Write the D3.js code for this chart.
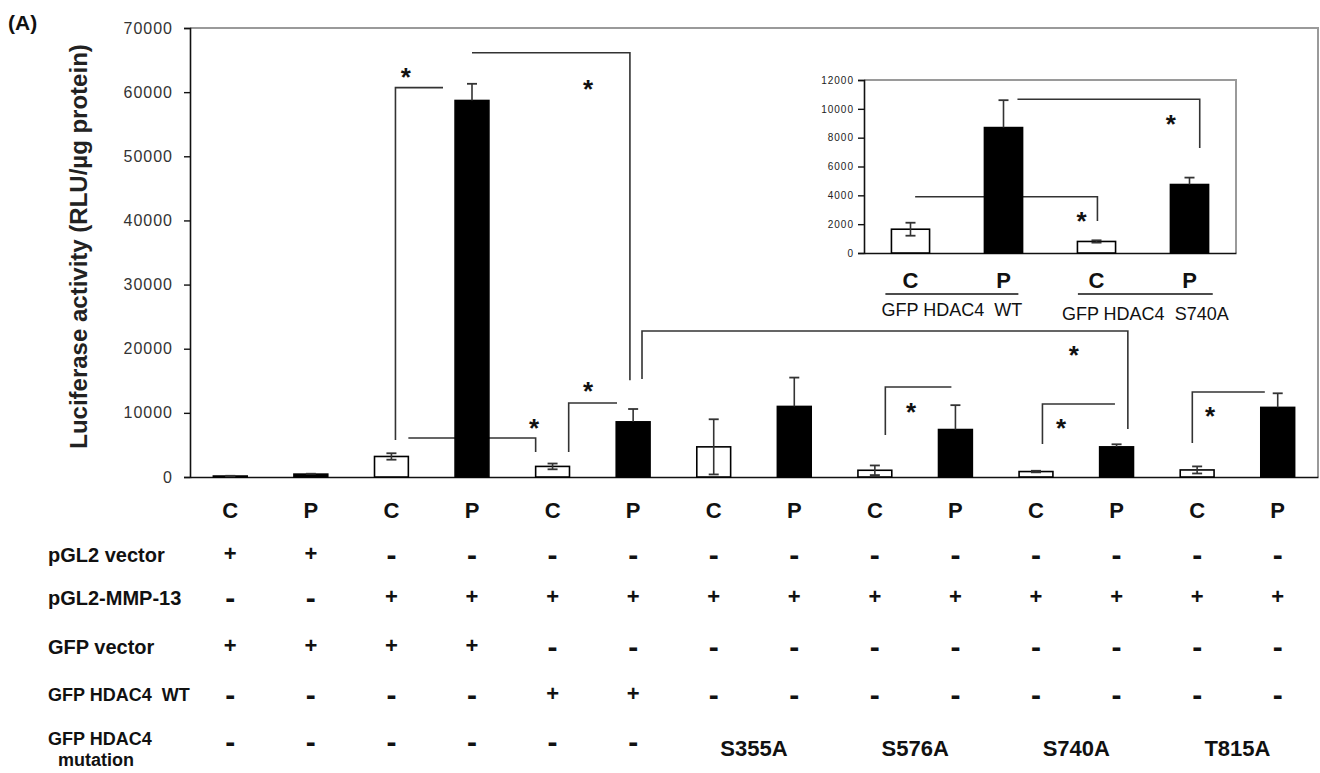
<!DOCTYPE html>
<html>
<head>
<meta charset="utf-8">
<script src="https://cdn.jsdelivr.net/npm/d3@7"></script>
<style>
  html, body { margin: 0; padding: 0; background: #fff; }
  svg { display: block; font-family: "Liberation Sans", Arial, sans-serif; }
  text { white-space: pre; }
</style>
</head>
<body>
<svg id="chart" width="1320" height="773"></svg>
<script>
// ---------------- data ----------------
const conditions = ["C","P","C","P","C","P","C","P","C","P","C","P","C","P"];
const mainValues = [150, 450, 3200, 58700, 1650, 8600, 4700, 11000, 1050, 7400, 850, 4700, 1100, 10850];
const mainErrors = [40, 60, 500, 2600, 450, 2000, 4300, 4500, 750, 3800, 120, 400, 550, 2200];
const yTicks = [0, 10000, 20000, 30000, 40000, 50000, 60000, 70000];

const insetConditions = ["C","P","C","P"];
const insetValues = [1650, 8700, 800, 4750];
const insetErrors = [450, 1900, 80, 480];
const insetTicks = [0, 2000, 4000, 6000, 8000, 10000, 12000];
const insetGroups = ["GFP HDAC4  WT", "GFP HDAC4  S740A"];

// table rows: label and one sign per column
const rowLabels = ["pGL2 vector", "pGL2-MMP-13", "GFP vector", "GFP HDAC4  WT", "GFP HDAC4"];
const rowSigns = [
  ["+","+","-","-","-","-","-","-","-","-","-","-","-","-"],
  ["-","-","+","+","+","+","+","+","+","+","+","+","+","+"],
  ["+","+","+","+","-","-","-","-","-","-","-","-","-","-"],
  ["-","-","-","-","+","+","-","-","-","-","-","-","-","-"],
  ["-","-","-","-","-","-"]
];
const mutations = ["S355A", "S576A", "S740A", "T815A"];

// significance brackets (x in bar-index units, y in data units)
// [xLeft, xRight, yTop, yLeftEnd (null = none), yRightEnd (null = none), starX, starY]
const mainBrackets = [
  [2.05, 2.64, 60700, 5770, null, 2.18, 63300],
  [3.0, 4.96, 66150, null, 15100, 4.44, 61400],
  [2.21, 3.79, 6080, null, 3900, 3.77, 8600],
  [4.2, 4.8, 11540, 3900, null, 4.44, 14300],
  [5.11, 11.14, 22760, 15280, 7480, 10.47, 19950],
  [8.13, 8.95, 14030, 6550, null, 8.45, 11070],
  [10.08, 10.98, 11380, 5150, null, 10.31, 8600],
  [11.94, 12.84, 13250, 5300, null, 12.16, 10450]
];
const insetBrackets = [
  [0.05, 2.01, 3900, null, 2220, 1.84, 2640],
  [1.15, 3.11, 10660, null, 7280, 2.8, 9360]
];

// ---------------- drawing ----------------
const svg = d3.select("#chart");
svg.append("rect").attr("width", 1320).attr("height", 773).attr("fill", "#fff");

const plotL = 190, plotR = 1318, plotT = 28, plotB = 477;
const x = d3.scaleBand().domain(d3.range(conditions.length)).range([plotL, plotR])
  .paddingInner(0.58).paddingOuter(0.29);
const xLin = d3.scaleLinear().domain([-0.5, conditions.length - 0.5]).range([plotL, plotR]);
const y = d3.scaleLinear().domain([0, 70000]).range([plotB, plotT]);

// gray top/right frame
svg.append("path")
  .attr("d", `M${xLin.range()[0]},${y(70000)}H${xLin.range()[1]}V${y(0)}`)
  .attr("fill", "none").attr("stroke", "#9a9a9a").attr("stroke-width", 2);

// y axis
const yAxis = svg.append("g").attr("transform", `translate(${plotL},0)`)
  .call(d3.axisLeft(y).tickValues(yTicks).tickSize(6).tickPadding(11).tickFormat(d3.format("d")));
yAxis.select(".domain").attr("stroke", "#111").attr("stroke-width", 1.6);
yAxis.selectAll(".tick line").attr("stroke", "#111").attr("stroke-width", 1.4);
yAxis.selectAll(".tick text").attr("font-size", 16).attr("fill", "#333")
  .attr("font-family", "Liberation Sans, Arial, sans-serif").style("letter-spacing", "1px");

// x axis line
const xAxis = svg.append("g").attr("transform", `translate(0,${plotB})`)
  .call(d3.axisBottom(xLin).tickValues([]).tickSizeOuter(0));
xAxis.select(".domain").attr("stroke", "#111").attr("stroke-width", 1.6);

// brackets
function drawBrackets(g, list, xs, ys, starSize) {
  list.forEach(b => {
    const [x1, x2, yt, yl, yr, sx, sy] = b;
    let d = "";
    if (yl !== null) d += `M${xs(x1)},${ys(yl)}V${ys(yt)}`; else d += `M${xs(x1)},${ys(yt)}`;
    d += `H${xs(x2)}`;
    if (yr !== null) d += `V${ys(yr)}`;
    g.append("path").attr("d", d).attr("fill", "none").attr("stroke", "#333").attr("stroke-width", 1.6);
    g.append("text").attr("x", xs(sx)).attr("y", ys(sy) + starSize * 0.58)
      .attr("text-anchor", "middle").attr("font-size", starSize).attr("font-weight", "bold")
      .attr("fill", "#111").text("*");
  });
}
drawBrackets(svg.append("g"), mainBrackets, xLin, y, 26);

// bars
function drawBars(g, values, errors, conds, xs, ys, capW) {
  g.selectAll("rect.bar").data(values).enter().append("rect")
    .attr("class", "bar")
    .attr("x", (d, i) => xs(i))
    .attr("y", d => ys(d))
    .attr("width", xs.bandwidth())
    .attr("height", d => ys(0) - ys(d))
    .attr("fill", (d, i) => conds[i] === "P" ? "#000" : "#fff")
    .attr("stroke", "#000").attr("stroke-width", 1.6);
  const eg = g.selectAll("g.err").data(values).enter().append("g").attr("class", "err");
  eg.each(function(d, i) {
    const e = errors[i];
    if (!e) return;
    const cxp = xs(i) + xs.bandwidth() / 2;
    const s = d3.select(this);
    const filled = conds[i] === "P";
    const lo = filled ? d : Math.max(0, d - e);
    s.append("line").attr("x1", cxp).attr("x2", cxp).attr("y1", ys(lo)).attr("y2", ys(d + e))
      .attr("stroke", "#333").attr("stroke-width", 1.6);
    s.append("line").attr("x1", cxp - capW / 2).attr("x2", cxp + capW / 2).attr("y1", ys(d + e)).attr("y2", ys(d + e))
      .attr("stroke", "#333").attr("stroke-width", 1.8);
    if (!filled) {
      s.append("line").attr("x1", cxp - capW / 2).attr("x2", cxp + capW / 2).attr("y1", ys(lo)).attr("y2", ys(lo))
        .attr("stroke", "#333").attr("stroke-width", 1.8);
    }
  });
}
drawBars(svg.append("g"), mainValues, mainErrors, conditions, x, y, 10);

// axis title
svg.append("text")
  .attr("transform", `translate(87,${(plotT + plotB) / 2 - 6}) rotate(-90)`)
  .attr("text-anchor", "middle").attr("font-size", 24).attr("font-weight", "bold").attr("fill", "#222")
  .text("Luciferase activity (RLU/\u00b5g protein)");

// panel label
svg.append("text").attr("x", 8).attr("y", 30).attr("font-size", 21).attr("font-weight", "bold")
  .attr("fill", "#111").text("(A)");

// ---------------- inset ----------------
const inL = 864, inR = 1236, inT = 80, inB = 253;
const xi = d3.scaleBand().domain(d3.range(insetValues.length)).range([inL, inR])
  .paddingInner(0.59).paddingOuter(0.295);
const xiLin = d3.scaleLinear().domain([-0.5, insetValues.length - 0.5]).range([inL, inR]);
const yi = d3.scaleLinear().domain([0, 12000]).range([inB, inT]);

svg.append("path")
  .attr("d", `M${xiLin.range()[0]},${yi(12000)}H${xiLin.range()[1]}V${yi(0)}`)
  .attr("fill", "none").attr("stroke", "#9a9a9a").attr("stroke-width", 2);
const yiAxis = svg.append("g").attr("transform", `translate(${inL},0)`)
  .call(d3.axisLeft(yi).tickValues(insetTicks).tickSize(6).tickPadding(4).tickFormat(d3.format("d")));
yiAxis.select(".domain").attr("stroke", "#111").attr("stroke-width", 1.6);
yiAxis.selectAll(".tick line").attr("stroke", "#111").attr("stroke-width", 1.4);
yiAxis.selectAll(".tick text").attr("font-size", 10).attr("fill", "#222")
  .attr("font-family", "Liberation Sans, Arial, sans-serif").style("letter-spacing", "1px");
const xiAxis = svg.append("g").attr("transform", `translate(0,${inB})`)
  .call(d3.axisBottom(xiLin).tickValues([]).tickSizeOuter(0));
xiAxis.select(".domain").attr("stroke", "#111").attr("stroke-width", 1.6);

drawBrackets(svg.append("g"), insetBrackets, xiLin, yi, 26);
drawBars(svg.append("g"), insetValues, insetErrors, insetConditions, xi, yi, 10);

// inset category labels
const insetLab = svg.append("g");
insetConditions.forEach((c, i) => {
  insetLab.append("text").attr("x", xi(i) + xi.bandwidth() / 2).attr("y", 280)
    .attr("dominant-baseline", "central").attr("text-anchor", "middle")
    .attr("font-size", 22).attr("font-weight", "bold").attr("fill", "#111").text(c);
});
[[-0.27, 1.16], [1.8, 3.25]].forEach((r, k) => {
  insetLab.append("line").attr("x1", xiLin(r[0])).attr("x2", xiLin(r[1])).attr("y1", 294).attr("y2", 294)
    .attr("stroke", "#111").attr("stroke-width", 1.6);
  insetLab.append("text").attr("x", xiLin((r[0] + r[1]) / 2)).attr("y", k === 0 ? 310 : 314)
    .attr("dominant-baseline", "central").attr("text-anchor", "middle")
    .attr("font-size", 18).attr("fill", "#111").text(insetGroups[k]);
});

// ---------------- table ----------------
const tab = svg.append("g").attr("fill", "#111");
const cx = i => x(i) + x.bandwidth() / 2;
conditions.forEach((c, i) => {
  tab.append("text").attr("x", cx(i)).attr("y", 510).attr("dominant-baseline", "central")
    .attr("text-anchor", "middle").attr("font-size", 22).attr("font-weight", "bold").text(c);
});
const rowY = [553, 596, 645, 693, 740];
rowLabels.forEach((lab, r) => {
  tab.append("text").attr("x", 48).attr("y", rowY[r] + (r === 4 ? -1 : 2)).attr("dominant-baseline", "central")
    .attr("font-size", r >= 3 ? 18 : 20).attr("font-weight", "bold").text(lab);
  rowSigns[r].forEach((s, i) => {
    tab.append("text").attr("x", cx(i)).attr("y", rowY[r] + (s === "+" ? 0 : 1))
      .attr("dominant-baseline", "central").attr("text-anchor", "middle")
      .attr("font-size", s === "+" ? 22 : 30).attr("font-weight", "bold").text(s);
  });
});
tab.append("text").attr("x", 58).attr("y", 760).attr("dominant-baseline", "central")
  .attr("font-size", 18).attr("font-weight", "bold").text("mutation");
mutations.forEach((m, k) => {
  tab.append("text").attr("x", xLin(6.5 + 2 * k)).attr("y", 748).attr("dominant-baseline", "central")
    .attr("text-anchor", "middle").attr("font-size", 22).attr("font-weight", "bold").text(m);
});
</script>
</body>
</html>
